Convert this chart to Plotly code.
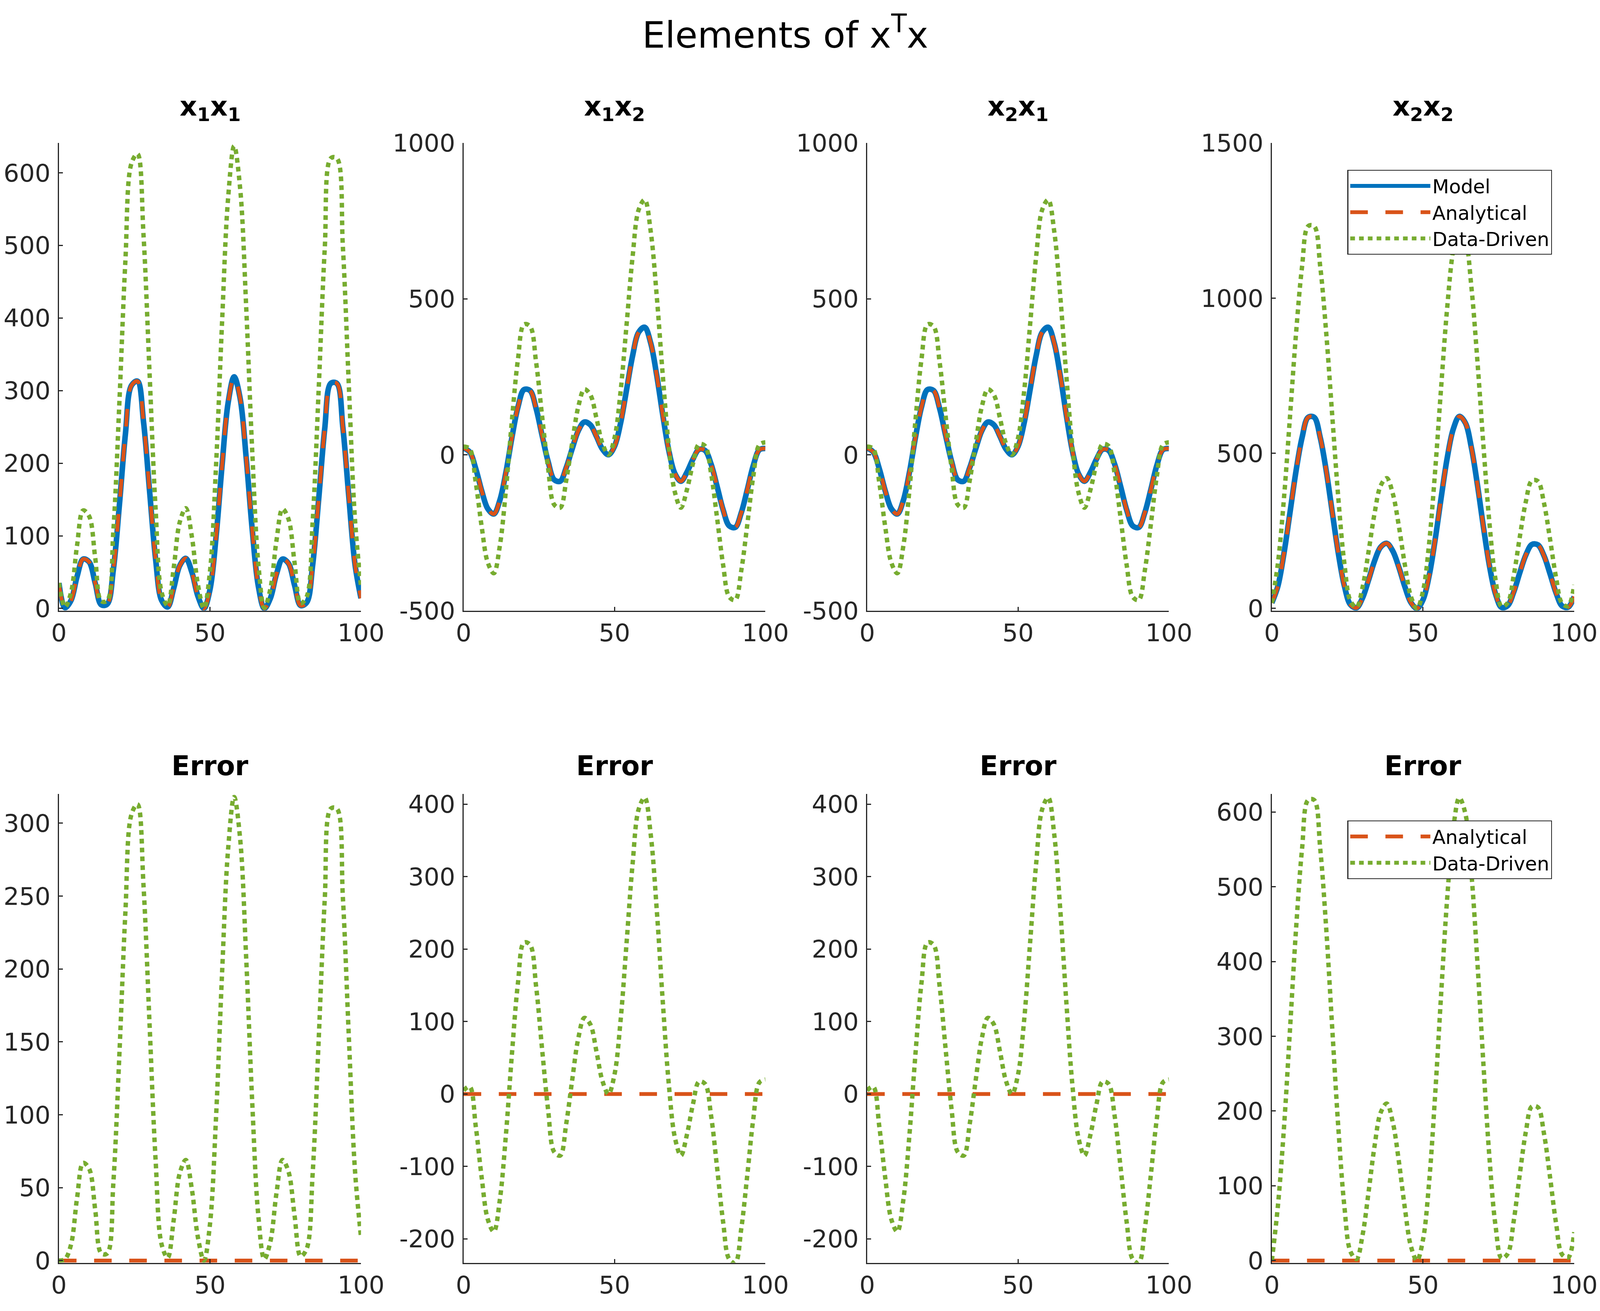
import plotly.graph_objects as go

# sample positions along the horizontal axis
t = list(range(0, 101, 2))

# x1*x1 : model (= analytical) and data-driven estimate
model_11 = [35, 1, 11, 44, 68, 64, 35, 5, 6, 53,
            142, 240, 307, 313, 257, 162, 68, 11, 2, 28,
            59, 69, 50, 17, 0, 26, 98, 197, 283, 319,
            289, 207, 108, 31, 0, 14, 47, 68, 62, 32,
            4, 8, 60, 151, 248, 310, 310, 249, 152, 61,
            14]
dd_11 = [35, 2, 22, 87, 135, 127, 70, 10, 11, 106,
         283, 479, 613, 626, 514, 324, 137, 22, 4, 56,
         119, 138, 99, 33, 0, 51, 196, 394, 565, 637,
         578, 414, 216, 62, 1, 27, 93, 137, 123, 63,
         7, 16, 120, 303, 496, 620, 620, 498, 304, 123,
         30]

# x1*x2 (same as x2*x1)
model_12 = [21, 9, -44, -116, -173, -190, -146, -57, 55, 153,
            209, 206, 149, 62, -22, -80, -85, -41, 20, 77,
            105, 96, 59, 18, 0, 27, 101, 209, 318, 393,
            409, 358, 254, 127, 13, -60, -85, -56, -14, 17,
            14, -30, -102, -177, -228, -233, -186, -112, -34, 16,
            20]
dd_12 = [26, 19, -88, -232, -346, -380, -292, -114, 110, 306,
         418, 412, 298, 124, -44, -160, -170, -82, 40, 154,
         210, 192, 118, 36, 0, 54, 202, 418, 636, 786,
         818, 716, 508, 254, 26, -120, -170, -112, -28, 34,
         28, -60, -204, -354, -456, -466, -372, -224, -68, 32,
         40]

# x2*x2
model_22 = [18, 72, 177, 309, 443, 551, 616, 616, 551, 443,
            309, 177, 72, 12, 2, 34, 92, 154, 198, 210,
            185, 133, 70, 19, 0, 28, 104, 221, 357, 485,
            578, 619, 598, 518, 398, 261, 136, 46, 3, 9,
            53, 115, 172, 206, 205, 170, 112, 50, 8, 4,
            38]
dd_22 = [18, 145, 354, 618, 886, 1102, 1232, 1232, 1102, 886,
         618, 354, 144, 24, 4, 68, 184, 308, 396, 420,
         370, 266, 140, 38, 0, 56, 208, 442, 714, 970,
         1156, 1238, 1196, 1036, 796, 522, 272, 92, 6, 18,
         106, 230, 344, 412, 410, 340, 224, 100, 16, 8,
         76]

# analytical solution lies on top of the model
ana_11, ana_12, ana_22 = model_11, model_12, model_22

panel_titles = ["x<sub>1</sub>x<sub>1</sub>", "x<sub>1</sub>x<sub>2</sub>",
                "x<sub>2</sub>x<sub>1</sub>", "x<sub>2</sub>x<sub>2</sub>"]
panels = [(model_11, ana_11, dd_11), (model_12, ana_12, dd_12),
          (model_12, ana_12, dd_12), (model_22, ana_22, dd_22)]

top_ranges = [[-3, 641], [-500, 1000], [-500, 1000], [-7, 1500]]
top_ticks = [list(range(0, 601, 100)), [-500, 0, 500, 1000], [-500, 0, 500, 1000], [0, 500, 1000, 1500]]
err_ranges = [[-1.5, 320], [-233, 414], [-233, 414], [-3, 624]]
err_ticks = [list(range(0, 301, 50)), list(range(-200, 401, 100)), list(range(-200, 401, 100)), list(range(0, 601, 100))]
x_ticks = [0, 50, 100]

BLUE, ORANGE, GREEN = "#0072BD", "#D95319", "#77AC30"
AX = "#262626"
FONT = "DejaVu Sans"

# reference picture size, used to place things as fractions of the page
W, H = 5482, 3357
S = 1.333  # screen pixels per css pixel
col_px = [(192, 1231), (1584, 2622), (2972, 4010), (4364, 5404)]
row_px = [(360, 1563), (2035, 3241)]


def px(v):
    return v / S


fig = go.Figure()
layout = {}

for r in range(2):
    for c in range(4):
        k = r * 4 + c + 1
        xa = "x" if k == 1 else f"x{k}"
        ya = "y" if k == 1 else f"y{k}"
        model, ana, dd = panels[c]
        leg = "legend" if r == 0 else "legend2"
        show = c == 3
        dash_line = dict(color=ORANGE, width=px(13), dash=f"{px(60):.1f}px,{px(60):.1f}px")
        dot_line = dict(color=GREEN, width=px(15), dash=f"{px(16):.1f}px,{px(14):.1f}px")
        if r == 0:
            fig.add_trace(go.Scatter(x=t, y=model, name="Model", mode="lines", line_shape="spline",
                                     line=dict(color=BLUE, width=px(19)), xaxis=xa, yaxis=ya,
                                     legend=leg, showlegend=show))
            fig.add_trace(go.Scatter(x=t, y=ana, name="Analytical", mode="lines", line_shape="spline",
                                     line=dash_line, xaxis=xa, yaxis=ya, legend=leg, showlegend=show))
            fig.add_trace(go.Scatter(x=t, y=dd, name="Data-Driven", mode="lines", line_shape="spline",
                                     line=dot_line, xaxis=xa, yaxis=ya, legend=leg, showlegend=show))
        else:
            err_ana = [a - m for a, m in zip(ana, model)]
            err_dd = [d - m for d, m in zip(dd, model)]
            fig.add_trace(go.Scatter(x=t, y=err_ana, name="Analytical", mode="lines", line_shape="spline",
                                     line=dash_line, xaxis=xa, yaxis=ya, legend=leg, showlegend=show))
            fig.add_trace(go.Scatter(x=t, y=err_dd, name="Data-Driven", mode="lines", line_shape="spline",
                                     line=dot_line, xaxis=xa, yaxis=ya, legend=leg, showlegend=show))

        x0, x1 = col_px[c]
        y0, y1 = row_px[r]
        yticks = top_ticks[c] if r == 0 else err_ticks[c]
        common = dict(showline=True, linecolor=AX, linewidth=px(4), mirror=False,
                      ticks="inside", ticklen=px(13), tickwidth=px(4), tickcolor=AX,
                      showgrid=False, zeroline=False, automargin=False,
                      ticklabeloverflow="allow",
                      tickfont=dict(family=FONT, size=px(84), color=AX))
        layout["xaxis" if k == 1 else f"xaxis{k}"] = dict(
            domain=[x0 / W, x1 / W], anchor=ya, range=[0, 100],
            tickvals=x_ticks, ticktext=[str(v) for v in x_ticks], **common)
        layout["yaxis" if k == 1 else f"yaxis{k}"] = dict(
            domain=[1 - y1 / H, 1 - y0 / H], anchor=xa,
            range=top_ranges[c] if r == 0 else err_ranges[c],
            tickvals=yticks, ticktext=[str(v) for v in yticks],
            ticklabelstandoff=6, **common)

annotations = [dict(text="Elements of x<sup>T</sup>x", x=2690 / W, y=1 - 76 / H, xref="paper", yref="paper",
                    xanchor="center", yanchor="middle", showarrow=False,
                    font=dict(family=FONT, size=px(124), color="black"))]
for c in range(4):
    xc = (col_px[c][0] + col_px[c][1]) / 2 / W
    annotations.append(dict(text="<b>" + panel_titles[c] + "</b>", x=xc, y=1 - 270 / H,
                            xref="paper", yref="paper", xanchor="center", yanchor="middle",
                            showarrow=False, font=dict(family=FONT, size=px(92), color="black")))
    annotations.append(dict(text="<b>Error</b>", x=xc, y=1 - 1962 / H,
                            xref="paper", yref="paper", xanchor="center", yanchor="middle",
                            showarrow=False, font=dict(family=FONT, size=px(92), color="black")))

legend_style = dict(xanchor="left", yanchor="top", bgcolor="white", bordercolor=AX, borderwidth=px(3),
                    font=dict(family=FONT, size=px(66), color="black"), itemwidth=round(px(273)))

# the page size follows the browser window
fig.update_layout(
    autosize=True,
    margin=dict(l=0, r=0, t=0, b=0),
    paper_bgcolor="white", plot_bgcolor="white",
    annotations=annotations,
    legend=dict(x=4624 / W, y=1 - 429 / H, **legend_style),
    legend2=dict(x=4624 / W, y=1 - 2103 / H, **legend_style),
    **layout,
)

fig.write_html("out.html")
